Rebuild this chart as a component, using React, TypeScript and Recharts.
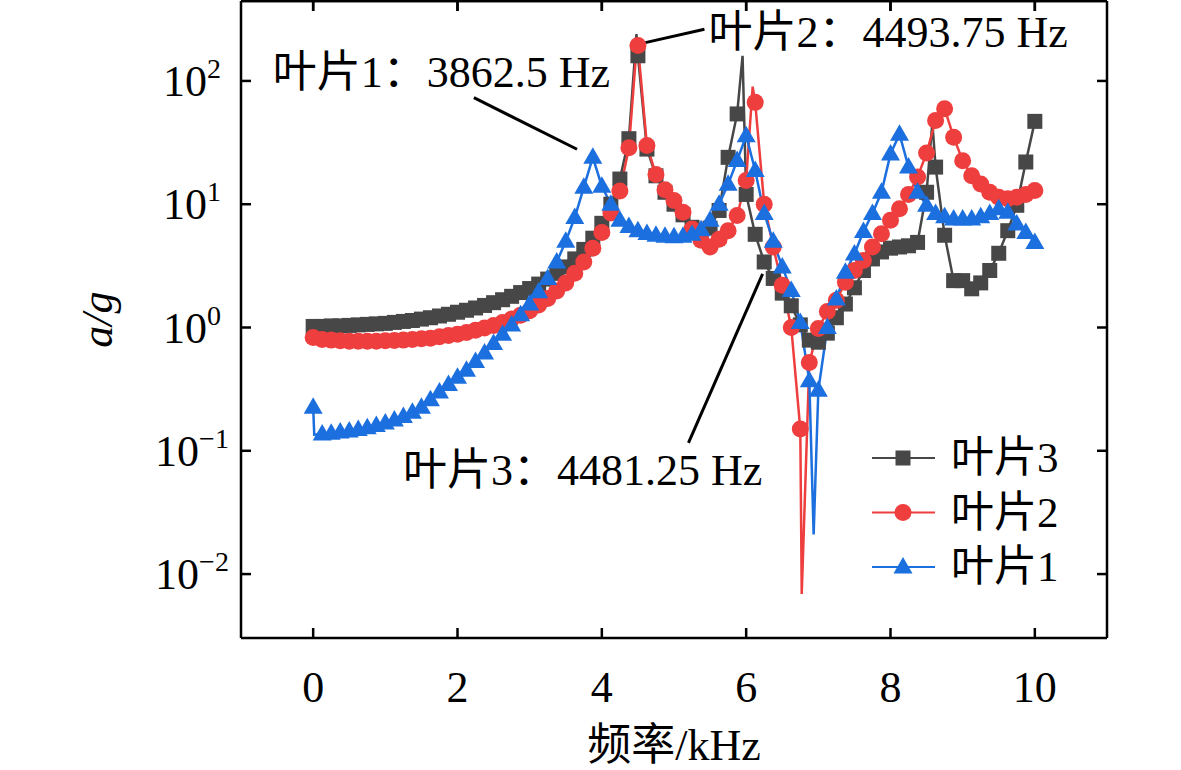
import React from 'react';
import { ComposedChart, Line, XAxis, YAxis, ReferenceLine, ReferenceDot, Legend } from 'recharts';

// ---------- data ----------
const FREQ = [
  0, 0.125, 0.25, 0.375, 0.5, 0.625, 0.75, 0.875, 1, 1.125, 1.25, 1.375, 1.5, 1.625, 1.75, 1.875,
  2, 2.125, 2.25, 2.375, 2.5, 2.625, 2.75, 2.875, 3, 3.125, 3.25, 3.375, 3.5, 3.625, 3.75, 3.875,
  4, 4.125, 4.25, 4.375, 4.5, 4.625, 4.75, 4.875, 5, 5.125, 5.25, 5.375, 5.5, 5.625, 5.75, 5.875,
  6, 6.125, 6.25, 6.375, 6.5, 6.625, 6.75, 6.875, 7, 7.125, 7.25, 7.375, 7.5, 7.625, 7.75, 7.875,
  8, 8.125, 8.25, 8.375, 8.5, 8.625, 8.75, 8.875, 9, 9.125, 9.25, 9.375, 9.5, 9.625, 9.75, 9.875, 10,
];

// 叶片3 (grey squares)
const BLADE3 = [
  1.02, 1.02, 1.03, 1.03, 1.04, 1.05, 1.06, 1.07, 1.08, 1.1, 1.12, 1.14, 1.17, 1.2, 1.24, 1.28,
  1.33, 1.38, 1.44, 1.51, 1.59, 1.68, 1.79, 1.92, 2.07, 2.25, 2.47, 2.75, 3.1, 3.6, 4.3, 5.3,
  7.0, 10, 16, 34, 160, 28, 17, 12.5, 10, 8.2, 6.5, 6.1, 6.4, 8.9, 24, 54,
  12, 5.7, 3.4, 2.5, 1.9, 1.5, 1.05, 0.79, 0.76, 0.9, 1.2, 1.55, 2.1, 2.9, 3.6, 4.1,
  4.4, 4.5, 4.6, 4.9, 12.5, 20, 5.6, 2.4, 2.4, 2.06, 2.3, 2.9, 4.0, 6.1, 9.8, 22, 47,
];
const BLADE3_SPIKE_F = [4.48, 5.95, 8.58];
const BLADE3_SPIKE_V = [240, 160, 46];

// 叶片2 (red circles)
const BLADE2 = [
  0.83, 0.8, 0.79, 0.78, 0.775, 0.775, 0.775, 0.775, 0.78, 0.785, 0.79, 0.8, 0.81, 0.82, 0.84, 0.86,
  0.88, 0.91, 0.95, 0.99, 1.04, 1.1, 1.17, 1.26, 1.37, 1.52, 1.72, 1.98, 2.3, 2.75, 3.4, 4.4,
  5.9, 8.5, 12.8, 28.7, 194, 30, 17.4, 13.1, 10.7, 8.6, 6.3, 5.1, 4.5, 5.2, 6.1, 8.1,
  15.6, 67, 10, 4.5, 2.2, 1.0, 0.15, 0.52, 0.98, 1.35, 1.66, 2.33, 2.9, 3.5, 4.5, 5.75,
  7.4, 9.2, 12, 16.6, 26, 47.8, 59.5, 35, 22.5, 17, 14.6, 12.5, 11.4, 11.1, 11.4, 12, 12.9,
];
const BLADE2_SPIKE_F = [4.49, 6.09, 6.77];
const BLADE2_SPIKE_V = [215, 90, 0.0069];

// 叶片1 (blue triangles)
const BLADE1 = [
  0.225, 0.137, 0.139, 0.142, 0.145, 0.149, 0.154, 0.16, 0.168, 0.178, 0.19, 0.205, 0.225, 0.26, 0.3, 0.345,
  0.395, 0.45, 0.53, 0.62, 0.74, 0.88, 1.05, 1.27, 1.55, 1.95, 2.5, 3.4, 5.0, 7.8, 13.7, 24,
  14, 10, 7.4, 6.6, 6.1, 5.8, 5.6, 5.5, 5.45, 5.5, 5.7, 6.2, 7.4, 10, 14.5, 22.6,
  36, 18.8, 8.4, 5.0, 3.1, 2.0, 1.1, 0.37, 0.31, 1.0, 1.7, 2.8, 3.95, 6.0, 8.4, 12.5,
  25.6, 37, 20, 12.5, 9.8, 8.4, 7.9, 7.6, 7.6, 7.6, 7.9, 8.4, 9.2, 8.6, 6.9, 5.9, 4.9,
];
const BLADE1_SPIKE_F = [0.015, 6.935];
const BLADE1_SPIKE_V = [0.135, 0.021];

const X_TICKS = [0, 2, 4, 6, 8, 10];
const Y_TICKS = [0.01, 0.1, 1, 10, 100];
const X_DOMAIN = [-1, 11];
const Y_DOMAIN = [0.00303, 445];

const SERIES_NAMES = ['叶片3', '叶片2', '叶片1'];

// annotations (data coordinates)
const ANNOTATIONS = [
  { text: '叶片1：3862.5 Hz', x: 1.777, y: 116, from: { x: 2.227, y: 73.2 }, to: { x: 3.656, y: 27.9 } },
  { text: '叶片2：4493.75 Hz', x: 7.967, y: 245, from: { x: 4.602, y: 204.6 }, to: { x: 5.422, y: 262.8 } },
  { text: '叶片3：4481.25 Hz', x: 3.734, y: 0.0698, from: { x: 6.228, y: 2.72 }, to: { x: 5.2, y: 0.116 } },
];

// ---------- style ----------
const GREY = '#474747';
const RED = '#ee3e3e';
const BLUE = '#1b6fde';
const FONT = "'Liberation Serif', 'Noto Sans CJK SC', serif";
const FS = 44;
const FRAME = { stroke: '#000', strokeWidth: 2.5 };

function build(f: number[], v: number[], sf: number[], sv: number[]) {
  const pts = f.map((x, i) => ({ f: x, v: v[i], m: true }));
  sf.forEach((x, i) => pts.push({ f: x, v: sv[i], m: false }));
  pts.sort((a, b) => a.f - b.f);
  return pts;
}

const S3 = build(FREQ, BLADE3, BLADE3_SPIKE_F, BLADE3_SPIKE_V);
const S2 = build(FREQ, BLADE2, BLADE2_SPIKE_F, BLADE2_SPIKE_V);
const S1 = build(FREQ, BLADE1, BLADE1_SPIKE_F, BLADE1_SPIKE_V);

const Square = ({ cx, cy }: any) => (
  <rect x={cx - 7.5} y={cy - 7.5} width={15} height={15} fill={GREY} />
);
const Circle = ({ cx, cy }: any) => <circle cx={cx} cy={cy} r={8.5} fill={RED} />;
const Tri = ({ cx, cy }: any) => (
  <polygon points={`${cx},${cy - 10} ${cx - 9.5},${cy + 6.5} ${cx + 9.5},${cy + 6.5}`} fill={BLUE} />
);

const mkDot = (Shape: any, tag: string) => (p: any) => {
  if (!p.payload || !p.payload.m || p.cx == null || p.cy == null) return <g key={`${tag}-${p.index}`} />;
  return (
    <g key={`${tag}-${p.index}`}>
      <Shape cx={p.cx} cy={p.cy} />
    </g>
  );
};

const XTickBottom = ({ x, y, payload }: any) => (
  <text x={x} y={y + 64} textAnchor="middle" fontFamily={FONT} fontSize={FS} fill="#000">
    {payload.value}
  </text>
);
const YTickLeft = ({ x, y, payload }: any) => {
  const e = Math.round(Math.log10(payload.value));
  const es = e < 0 ? '\u2212' + Math.abs(e) : String(e);
  return (
    <text x={x - 49} y={y + 15} textAnchor="middle" fontFamily={FONT} fontSize={FS} fill="#000">
      <tspan>10</tspan>
      <tspan dy={-18} fontSize={28}>{es}</tspan>
    </text>
  );
};
const NoLabel = () => <g />;

const LegendBox = () => {
  const rows = [
    { name: SERIES_NAMES[0], color: GREY, Shape: Square },
    { name: SERIES_NAMES[1], color: RED, Shape: Circle },
    { name: SERIES_NAMES[2], color: BLUE, Shape: Tri },
  ];
  return (
    <svg width={240} height={170} style={{ overflow: 'visible' }}>
      {rows.map((r, i) => {
        const cy = 30 + i * 54.5;
        return (
          <g key={r.name}>
            <line x1={12} y1={cy} x2={75} y2={cy} stroke={r.color} strokeWidth={2} />
            <r.Shape cx={43} cy={cy} />
            <text x={91} y={cy + 14} fontFamily={FONT} fontSize={43} fill="#000">
              {r.name}
            </text>
          </g>
        );
      })}
    </svg>
  );
};

export default function App() {
  return (
    <div style={{ position: 'absolute', left: 0, top: 0, width: 1181, height: 770, background: '#fff' }}>
      <ComposedChart width={1181} height={770} margin={{ top: 0, right: 73, bottom: 0, left: 0 }}>
        <XAxis
          dataKey="f"
          type="number"
          domain={X_DOMAIN}
          ticks={X_TICKS}
          interval={0}
          allowDataOverflow
          height={132}
          tickSize={-10}
          tickMargin={10}
          tickLine={FRAME}
          axisLine={FRAME}
          tick={<XTickBottom />}
          label={{
            content: (p: any) => (
              <text
                x={p.viewBox.x + p.viewBox.width / 2}
                y={p.viewBox.y + 122}
                textAnchor="middle"
                fontFamily={FONT}
                fontSize={FS}
                fill="#000"
              >
                频率/kHz
              </text>
            ),
          }}
        />
        <XAxis
          xAxisId="top"
          orientation="top"
          dataKey="f"
          type="number"
          domain={X_DOMAIN}
          ticks={X_TICKS}
          interval={0}
          allowDataOverflow
          height={1}
          tickSize={-10}
          tickMargin={0}
          tickLine={FRAME}
          axisLine={FRAME}
          tick={<NoLabel />}
        />
        <YAxis
          type="number"
          scale="log"
          domain={Y_DOMAIN}
          ticks={Y_TICKS}
          interval={0}
          allowDataOverflow
          width={241}
          tickSize={-10}
          tickMargin={10}
          tickLine={FRAME}
          axisLine={FRAME}
          tick={<YTickLeft />}
          label={{
            content: (p: any) => {
              const cx = 112;
              const cy = p.viewBox.y + p.viewBox.height / 2;
              return (
                <text
                  x={cx}
                  y={cy}
                  transform={`rotate(-90, ${cx}, ${cy})`}
                  textAnchor="middle"
                  fontFamily={FONT}
                  fontSize={FS}
                  fontStyle="italic"
                  fill="#000"
                >
                  a/g
                </text>
              );
            },
          }}
        />
        <YAxis
          yAxisId="right"
          orientation="right"
          type="number"
          scale="log"
          domain={Y_DOMAIN}
          ticks={Y_TICKS}
          interval={0}
          allowDataOverflow
          width={1}
          tickSize={-10}
          tickMargin={0}
          tickLine={FRAME}
          axisLine={FRAME}
          tick={<NoLabel />}
        />

        <ReferenceLine y={Y_DOMAIN[1]} stroke="#000" strokeWidth={2.5} ifOverflow="visible" />
        {X_TICKS.map((t) => (
          <ReferenceLine
            key={`tt${t}`}
            segment={[{ x: t, y: Y_DOMAIN[1] }, { x: t, y: Y_DOMAIN[1] * 0.83 }]}
            stroke="#000"
            strokeWidth={2.5}
            ifOverflow="visible"
          />
        ))}

        <Line
          data={S3}
          dataKey="v"
          name={SERIES_NAMES[0]}
          type="linear"
          stroke={GREY}
          strokeWidth={2.5}
          dot={mkDot(Square, 's3')}
          activeDot={false}
          isAnimationActive={false}
        />
        <Line
          data={S2}
          dataKey="v"
          name={SERIES_NAMES[1]}
          type="linear"
          stroke={RED}
          strokeWidth={2.5}
          dot={mkDot(Circle, 's2')}
          activeDot={false}
          isAnimationActive={false}
        />
        <Line
          data={S1}
          dataKey="v"
          name={SERIES_NAMES[2]}
          type="linear"
          stroke={BLUE}
          strokeWidth={2.5}
          dot={mkDot(Tri, 's1')}
          activeDot={false}
          isAnimationActive={false}
        />

        {ANNOTATIONS.map((a, i) => (
          <ReferenceLine
            key={`l${i}`}
            segment={[a.from, a.to]}
            stroke="#000"
            strokeWidth={3}
            ifOverflow="visible"
          />
        ))}
        {ANNOTATIONS.map((a, i) => (
          <ReferenceDot
            key={`t${i}`}
            x={a.x}
            y={a.y}
            r={0}
            ifOverflow="visible"
            shape={(p: any) => (
              <text
                x={p.cx}
                y={p.cy}
                dominantBaseline="central"
                textAnchor="middle"
                fontFamily={FONT}
                fontSize={FS}
                fill="#000"
              >
                {a.text}
              </text>
            )}
          />
        ))}

        <Legend
          layout="horizontal"
          verticalAlign="middle"
          align="center"
          wrapperStyle={{ left: 860, top: 428, width: 240, height: 170 }}
          content={<LegendBox />}
        />
      </ComposedChart>
    </div>
  );
}
